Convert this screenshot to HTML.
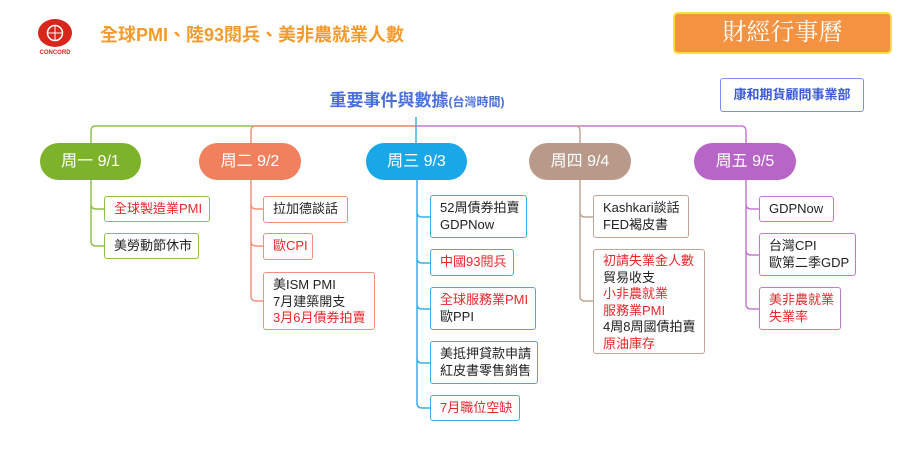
<!DOCTYPE html>
<html><head><meta charset="utf-8"><style>
body{margin:0;width:900px;height:471px;background:#fff;position:relative;overflow:hidden;font-family:"Liberation Sans","Noto Sans CJK TC",sans-serif}
.a{position:absolute}
.pill{position:absolute;height:37px;border-radius:19px;color:#fff;font-size:16px;line-height:37px;text-align:center}
.bx{position:absolute;background:#fff;border:1.5px solid;border-radius:3px;font-size:13px;line-height:16.5px;padding:4px 0 0 9px;box-sizing:border-box;color:#222;overflow:hidden}
.r{color:#e8262a}
</style></head><body>
<svg class="a" style="left:0;top:0" width="900" height="471">
<g fill="none" stroke-width="1.5">
<path d="M91 143 V131 Q91 126 96 126 H416" stroke="#8fc04c"/>
<path d="M251 143 V131 Q251 126 256 126 H416" stroke="#f0907a"/>
<path d="M416 143 V117" stroke="#3aaee8"/>
<path d="M416 126 H741 Q746 126 746 131 V143" stroke="#c27ad0"/>
<path d="M580 143 V131 Q580 126 575 126" stroke="#c0a595"/>
<path d="M91 180 V241 Q91 246 96 246 H104 M91 204 Q91 209 96 209 H104" stroke="#8fc04c"/>
<path d="M251 180 V296 Q251 301 256 301 H263 M251 204 Q251 209 256 209 H263 M251 241 Q251 246 256 246 H263" stroke="#f0907a"/>
<path d="M417 180 V403 Q417 408 422 408 H430 M417 212 Q417 217 422 217 H430 M417 258 Q417 263 422 263 H430 M417 304 Q417 309 422 309 H430 M417 358 Q417 363 422 363 H430" stroke="#3aaee8"/>
<path d="M580 180 V296 Q580 301 585 301 H593 M580 212 Q580 217 585 217 H593" stroke="#c0a595"/>
<path d="M746 180 V304 Q746 309 751 309 H759 M746 204 Q746 209 751 209 H759 M746 250 Q746 255 751 255 H759" stroke="#c27ad0"/>
</g>
<ellipse cx="55" cy="33" rx="17" ry="14" fill="#d9261c"/>
<circle cx="55" cy="33" r="7.5" fill="none" stroke="#fff" stroke-width="1.5"/>
<path d="M47 33H63M55 25V41" stroke="#fff" stroke-width="1"/>
<text x="55" y="54" font-size="6" font-weight="bold" fill="#d9261c" text-anchor="middle" font-family="Liberation Sans">CONCORD</text>
</svg>
<div class="a" style="left:100px;top:21px;font-size:18px;font-weight:bold;color:#f39a2b">全球PMI、陸93閱兵、美非農就業人數</div>
<div class="a" style="left:673px;top:12px;width:219px;height:42px;box-sizing:border-box;background:#f39240;border:2px solid #f5e040;border-radius:5px;color:#fff;font-family:'Liberation Serif','Noto Serif CJK SC',serif;font-size:24px;line-height:38px;text-align:center">財經行事曆</div>
<div class="a" style="left:720px;top:78px;width:144px;height:34px;box-sizing:border-box;border:1.5px solid #7b8ff0;border-radius:3px;color:#3b5bd6;font-weight:bold;font-size:13px;line-height:31px;text-align:center">康和期貨顧問事業部</div>
<div class="a" style="left:300px;top:86px;width:234px;text-align:center;color:#4a6fdc;font-weight:bold;font-size:17px">重要事件與數據<span style="font-size:12px">(台灣時間)</span></div>
<div class="pill" style="left:40px;top:143px;width:101px;background:#7cb32a">周一 9/1</div>
<div class="pill" style="left:199px;top:143px;width:102px;background:#f0805e">周二 9/2</div>
<div class="pill" style="left:366px;top:143px;width:101px;background:#1aa7e8">周三 9/3</div>
<div class="pill" style="left:529px;top:143px;width:102px;background:#b99a8a">周四 9/4</div>
<div class="pill" style="left:694px;top:143px;width:102px;background:#b865c8">周五 9/5</div>

<div class="bx r" style="left:104px;top:196px;width:106px;height:26px;border-color:#8fc04c">全球製造業PMI</div>
<div class="bx" style="left:104px;top:233px;width:95px;height:26px;border-color:#8fc04c">美勞動節休市</div>

<div class="bx" style="left:263px;top:196px;width:85px;height:27px;border-color:#f0907a">拉加德談話</div>
<div class="bx r" style="left:263px;top:233px;width:50px;height:27px;border-color:#f0907a">歐CPI</div>
<div class="bx" style="left:263px;top:272px;width:112px;height:58px;border-color:#f0907a">美ISM PMI<br>7月建築開支<br><span class="r">3月6月債券拍賣</span></div>

<div class="bx" style="left:430px;top:195px;width:97px;height:43px;border-color:#3aaee8">52周債券拍賣<br>GDPNow</div>
<div class="bx r" style="left:430px;top:249px;width:84px;height:27px;border-color:#3aaee8">中國93閱兵</div>
<div class="bx" style="left:430px;top:287px;width:106px;height:43px;border-color:#3aaee8"><span class="r">全球服務業PMI</span><br>歐PPI</div>
<div class="bx" style="left:430px;top:341px;width:108px;height:43px;border-color:#3aaee8">美抵押貸款申請<br>紅皮書零售銷售</div>
<div class="bx r" style="left:430px;top:395px;width:90px;height:26px;border-color:#3aaee8">7月職位空缺</div>

<div class="bx" style="left:593px;top:195px;width:96px;height:43px;border-color:#c0a595">Kashkari談話<br>FED褐皮書</div>
<div class="bx" style="left:593px;top:249px;width:112px;height:105px;border-color:#c0a595;padding-top:3px"><span class="r">初請失業金人數</span><br>貿易收支<br><span class="r">小非農就業<br>服務業PMI</span><br>4周8周國債拍賣<br><span class="r">原油庫存</span></div>

<div class="bx" style="left:759px;top:196px;width:75px;height:26px;border-color:#c27ad0">GDPNow</div>
<div class="bx" style="left:759px;top:233px;width:97px;height:43px;border-color:#c27ad0">台灣CPI<br>歐第二季GDP</div>
<div class="bx r" style="left:759px;top:287px;width:82px;height:43px;border-color:#c27ad0">美非農就業<br>失業率</div>
</body></html>
